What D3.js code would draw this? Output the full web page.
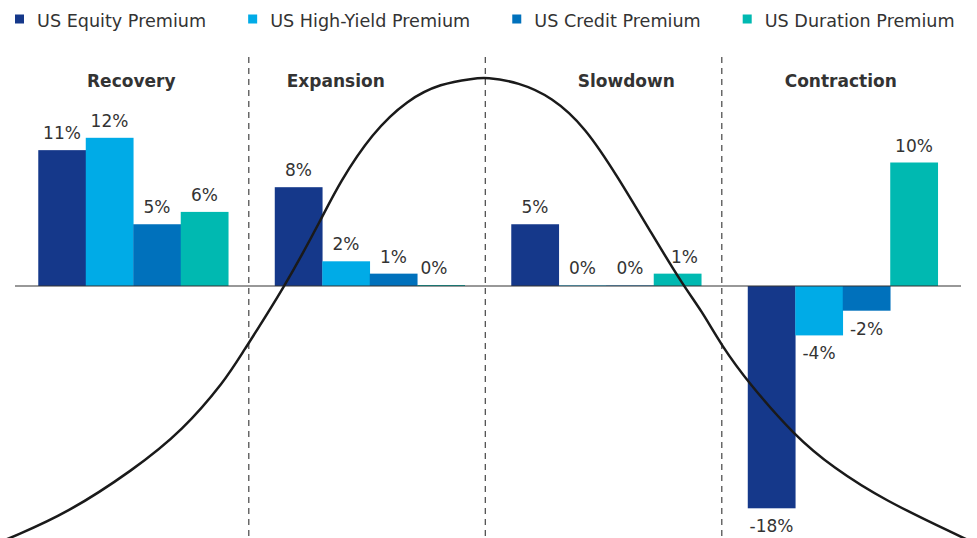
<!DOCTYPE html>
<html>
<head>
<meta charset="utf-8">
<script src="https://cdn.jsdelivr.net/npm/d3@7"></script>
<style>
  html, body { margin: 0; padding: 0; background: #fff; }
  svg { display: block; }
  text { font-family: "DejaVu Sans", sans-serif; fill: #333; }
</style>
</head>
<body>
<svg id="chart" width="977" height="538"></svg>
<script>
// ---- Data ----
const categories = ["Recovery", "Expansion", "Slowdown", "Contraction"];
const seriesNames = ["US Equity Premium", "US High-Yield Premium", "US Credit Premium", "US Duration Premium"];
const equityPremium    = [11, 8, 5, -18];
const highYieldPremium = [12, 2, 0.05, -4];
const creditPremium    = [5, 1, 0.05, -2];
const durationPremium  = [6, 0.08, 1, 10];
// business-cycle curve: [cycle phase (category units), level (% units)]
const cyclePhase = [-0.06, -0.008, 0.22, 0.50, 0.71, 0.89, 0.95, 1.14, 1.30, 1.37, 1.51, 1.66, 1.80, 1.94, 1.99, 2.13, 2.27, 2.41, 2.55, 2.69, 2.83, 2.90, 2.99, 3.10, 3.30, 3.46, 3.67, 4.00, 4.06];
const cycleLevel = [-20.7, -20.3, -18.4, -14.9, -11.7, -7.6, -5.75, -0.1, 5.6, 8.3, 12.4, 15.1, 16.4, 16.8, 16.9, 16.5, 15.3, 12.9, 8.8, 4.3, -0.1, -1.9, -4.9, -7.8, -12.2, -14.7, -17.3, -20.3, -20.85];

// ---- Style / layout ----
const colors = ["#15388A", "#00ABE7", "#0071BC", "#00B9B1"];
const titleShift = [-2, -34, 20, -2];

const svg = d3.select("#chart");
const W = 977, H = 538;

const x0 = d3.scaleBand().domain(categories).range([15, 961]).paddingInner(0).paddingOuter(0);
const x1 = d3.scaleBand().domain(seriesNames).range([0, x0.bandwidth()]).paddingInner(0).paddingOuter(0.49);
const y = d3.scaleLinear().domain([-20, 20]).range([533, 39]);
const xc = d3.scaleLinear().domain([0, categories.length]).range(x0.range());

const seriesValues = [equityPremium, highYieldPremium, creditPremium, durationPremium];
const rows = [];
categories.forEach((c, ci) => {
  seriesNames.forEach((s, si) => {
    rows.push({ cat: c, ci, series: s, si, value: seriesValues[si][ci] });
  });
});

// dividers
svg.append("g").selectAll("line")
  .data(categories.slice(1))
  .join("line")
  .attr("x1", d => x0(d) - 2.7).attr("x2", d => x0(d) - 2.7)
  .attr("y1", 57).attr("y2", H)
  .attr("stroke", "#444").attr("stroke-width", 1.2)
  .attr("stroke-dasharray", "6,5");

// bars
svg.append("g").selectAll("rect")
  .data(rows)
  .join("rect")
  .attr("x", d => x0(d.cat) + x1(d.series))
  .attr("width", x1.bandwidth() + 0.3)
  .attr("y", d => Math.min(y(d.value), y(0)))
  .attr("height", d => Math.abs(y(d.value) - y(0)))
  .attr("fill", d => colors[d.si]);

// zero line
svg.append("line")
  .attr("x1", x0.range()[0]).attr("x2", x0.range()[1])
  .attr("y1", y(0)).attr("y2", y(0))
  .attr("stroke", "#333").attr("stroke-width", 1.2);

// value labels
const labelShift = { "Expansion|US Duration Premium": -7, "Slowdown|US Duration Premium": 7 };
svg.append("g").selectAll("text")
  .data(rows)
  .join("text")
  .attr("x", d => x0(d.cat) + x1(d.series) + x1.bandwidth() / 2 + (labelShift[d.cat + "|" + d.series] || 0))
  .attr("y", d => d.value >= 0 ? y(d.value) - 11 : y(d.value) + 24)
  .attr("text-anchor", "middle")
  .attr("font-size", 17)
  .text(d => Math.round(d.value) + "%");

// category titles
svg.append("g").selectAll("text")
  .data(categories)
  .join("text")
  .attr("x", (d, i) => x0(d) + x0.bandwidth() / 2 + titleShift[i])
  .attr("y", 87)
  .attr("text-anchor", "middle")
  .attr("font-size", 17)
  .attr("font-weight", "bold")
  .attr("fill", "#222")
  .text(d => d);

// cycle curve
const line = d3.line()
  .x(d => xc(d[0]))
  .y(d => y(d[1]))
  .curve(d3.curveBasis);
svg.append("path")
  .datum(cyclePhase.map((p, i) => [p, cycleLevel[i]]))
  .attr("d", line)
  .attr("fill", "none")
  .attr("stroke", "#1a1a1a")
  .attr("stroke-width", 2.5);

// legend
const legend = svg.append("g");
let lx = 15;
seriesNames.forEach((s, i) => {
  legend.append("rect").attr("x", lx).attr("y", 14.5).attr("width", 9).attr("height", 9).attr("fill", colors[i]);
  const t = legend.append("text").attr("x", lx + 22).attr("y", 27).attr("font-size", 17.6).text(s);
  lx = lx + 22 + t.node().getComputedTextLength() + 42;
});
</script>
</body>
</html>
